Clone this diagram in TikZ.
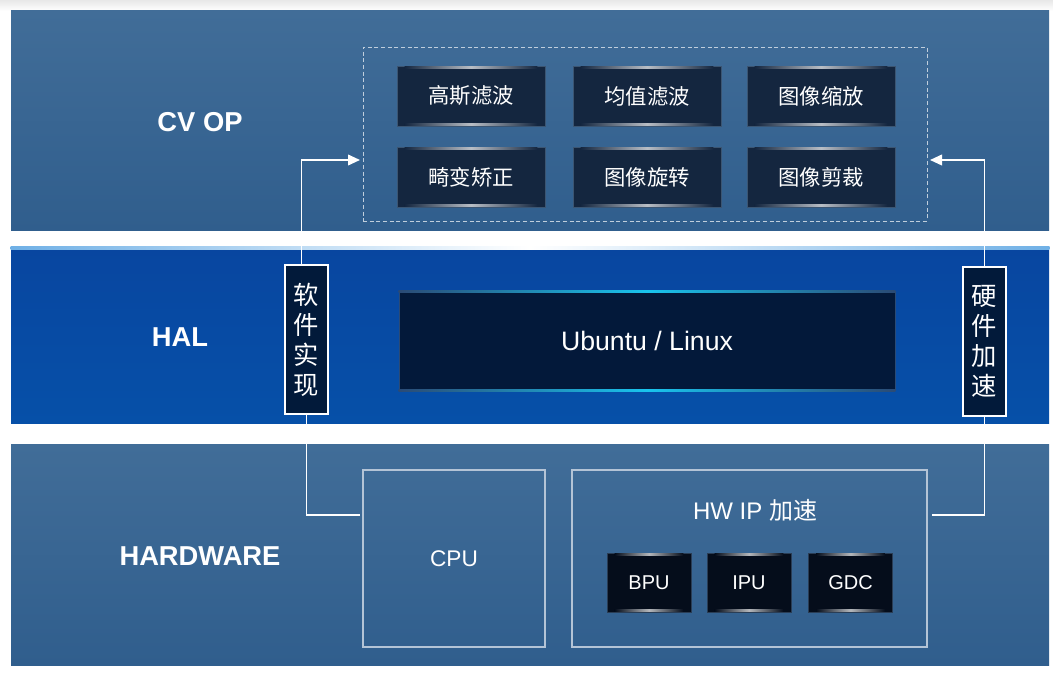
\documentclass[tikz,border=0pt]{standalone}
\usepackage{fontspec}
\setmainfont{Liberation Sans}
\newfontfamily\cjk{Noto Sans CJK SC}
\usetikzlibrary{arrows.meta, calc}

\definecolor{bandtop}{HTML}{416D98}
\definecolor{bandbot}{HTML}{305E8D}
\definecolor{haltop}{HTML}{0846A0}
\definecolor{halbot}{HTML}{0650A8}
\definecolor{opfill}{HTML}{14263F}
\definecolor{opedge}{HTML}{3B5572}
\definecolor{chipfill}{HTML}{050D1B}
\definecolor{chipedge}{HTML}{2A3D55}
\definecolor{ubfill}{HTML}{03193A}
\definecolor{ubedge}{HTML}{2A4A75}
\definecolor{labfill}{HTML}{021A3A}
\definecolor{unitedge}{HTML}{B4C4D6}
\definecolor{dashedge}{HTML}{C0CEDC}
\definecolor{glowcyan}{HTML}{19C4EE}
\definecolor{halline}{HTML}{6FB0E6}

\newcommand{\pxu}{0.75pt}

\begin{document}
\begin{tikzpicture}[x=0.75pt, y=-0.75pt,
  band/.style={inner sep=0, minimum width=1038*\pxu, minimum height=#1*\pxu},
  bandlabel/.style={text=white, font=\bfseries\fontsize{20.5}{24}\selectfont},
  opbox/.style={draw=opedge, fill=opfill, text=white, inner sep=0, minimum width=148*\pxu, minimum height=60*\pxu, font=\cjk\fontsize{16}{19}\selectfont},
  chip/.style={draw=chipedge, fill=chipfill, text=white, inner sep=0, minimum width=84*\pxu, minimum height=59*\pxu, font=\fontsize{15}{18}\selectfont},
  vlabel/.style={draw=white, line width=1.5pt, fill=labfill, text=white, inner sep=0, minimum width=43*\pxu, minimum height=149*\pxu, align=center, font=\cjk\fontsize{19}{22.5}\selectfont},
  unit/.style={draw=unitedge, line width=0.8pt, inner sep=0, minimum height=177*\pxu},
  link/.style={draw=white, line width=1.3pt}]

\pgfdeclarelayer{bg}    % bands and paths go below the boxes
\pgfsetlayers{bg,main}

\useasboundingbox (0,0) rectangle (1053,673);

\begin{pgfonlayer}{bg}
\fill[white] (0,0) rectangle (1053,673);
\shade[top color=gray!18, bottom color=white] (0,0) rectangle (1053,11);
\node[band=220, top color=bandtop, bottom color=bandbot] (cvop) at (530,121) {};
\node[band=177, top color=haltop, bottom color=halbot] (hal) at (530,335.5) {};
\node[band=221, top color=bandtop, bottom color=bandbot] (hw) at (530,554.5) {};
\shade[left color=halline, right color=halline, middle color=white] (hal.north west) rectangle ($(hal.north east)+(0,3)$);
\end{pgfonlayer}

% layer names
\node[bandlabel] (cvoplbl) at (200,122) {CV OP};
\node[bandlabel] (hallbl) at (180,337) {HAL};
\node[bandlabel] (hwlbl) at (200,556) {HARDWARE};

% CV OP
\node[draw=dashedge, dash pattern=on 3pt off 2pt, line width=0.6pt, inner sep=0, minimum width=564*\pxu, minimum height=174*\pxu] (opgroup) at (645,134) {};
\node[opbox] (gauss) at (471,96) {高斯滤波};
\node[opbox] (mean) at (647,96) {均值滤波};
\node[opbox] (resize) at (821,96) {图像缩放};
\node[opbox] (undist) at (471,177) {畸变矫正};
\node[opbox] (rotate) at (647,177) {图像旋转};
\node[opbox] (crop) at (821,177) {图像剪裁};

% HAL
\node[draw=ubedge, fill=ubfill, text=white, inner sep=0, minimum width=496*\pxu, minimum height=98*\pxu, font=\fontsize{20}{24}\selectfont] (ubuntu) at (647,341) {Ubuntu / Linux};
\foreach \a in {north, south} {
  \shade[left color=ubedge, right color=ubedge, middle color=glowcyan] ($(ubuntu.\a\space west)+(0,-1)$) rectangle ($(ubuntu.\a\space east)+(0,1)$);
}
\node[vlabel] (sw) at (306.5,339.5) {软\\件\\实\\现};
\node[vlabel] (hwacc) at (984.5,341.5) {硬\\件\\加\\速};

% HARDWARE
\node[unit, minimum width=182*\pxu, text=white, font=\fontsize{17}{20}\selectfont] (cpu) at (454,558.5) {CPU};
\node[unit, minimum width=355*\pxu] (hwip) at (749.5,558.5) {};
\node[text=white, font=\fontsize{18}{22}\selectfont] (hwiptitle) at (755,510) {HW IP {\cjk 加速}};
\node[chip] (bpu) at (649,582.5) {BPU};
\node[chip] (ipu) at (749,582.5) {IPU};
\node[chip] (gdc) at (850.5,582.5) {GDC};

% glow lines on the small boxes
\foreach \nm/\fc in {gauss/opfill, mean/opfill, resize/opfill, undist/opfill, rotate/opfill, crop/opfill, bpu/chipfill, ipu/chipfill, gdc/chipfill} {
  \shade[left color=\fc, right color=\fc, middle color=white!70!\fc] ($(\nm.north west)+(8,1)$) rectangle ($(\nm.north east)+(-8,3)$);
  \shade[left color=\fc, right color=\fc, middle color=white!70!\fc] ($(\nm.south west)+(8,-3)$) rectangle ($(\nm.south east)+(-8,-1)$);
}

% software / hardware paths
\coordinate (swin) at (360,160);
\coordinate (hwin) at (930,160);
\coordinate (cpuout) at (360,515);
\coordinate (hwipout) at (932,515);
\begin{pgfonlayer}{bg}
\draw[link, -{Triangle[length=9pt, width=8pt]}] ($(sw.north)+(-5,0)$) |- (swin);
\draw[link, -{Triangle[length=9pt, width=8pt]}] (hwacc.north) |- (hwin);
\draw[link] (sw.south) |- (cpuout);
\draw[link] (hwacc.south) |- (hwipout);
\end{pgfonlayer}
\end{tikzpicture}
\end{document}
